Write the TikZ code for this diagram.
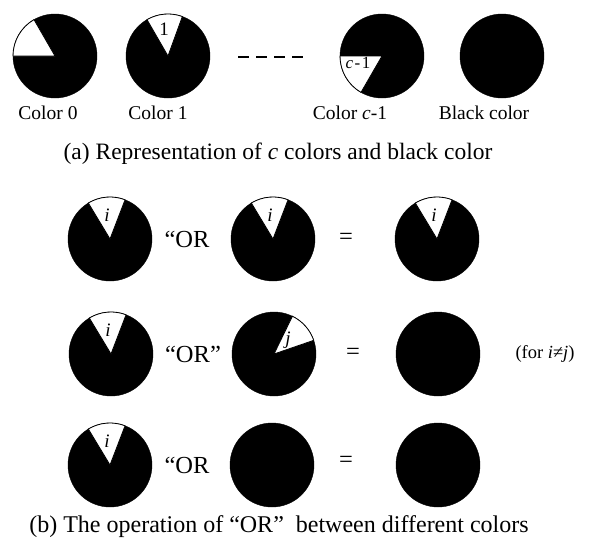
\documentclass[tikz,border=0pt]{standalone}
\usepackage{fontspec}
\setmainfont{Liberation Serif}
\usetikzlibrary{positioning}

% white sector cut out of a black disc: node, start angle, end angle
\newcommand{\slice}[3]{\filldraw[gap] (#1.center) -- ++(#2:42pt) arc[start angle=#2, end angle=#3, radius=42pt] -- cycle;}

\begin{document}
\begin{tikzpicture}[x=1pt, y=1pt,
    disc/.style={circle, fill=black, draw=black, minimum size=84pt, inner sep=0pt},
    gap/.style={fill=white, draw=black, line width=0.8pt},
    lbl/.style={font=\fontsize{19.5}{21}\selectfont},
    tag/.style={font=\fontsize{19}{20}\selectfont, inner sep=0pt},
    caption/.style={font=\fontsize{23.5}{25}\selectfont},
    op/.style={font=\fontsize{24.5}{26}\selectfont}]
    \useasboundingbox (0,0) rectangle (595,-541);

    % (a) the c colors
    \node[disc] (c0) at (55,-56) {};
    \node[disc] (c1) at (168,-56) {};
    \node[disc] (cl) at (382,-56) {};
    \node[disc] (cb) at (502,-56) {};
    \slice{c0}{120}{180}
    \slice{c1}{70}{120}
    \slice{cl}{180}{240}
    \node[tag] (m1) at (164,-29) {1};
    \node[tag, font=\fontsize{17}{18}\selectfont] (ml) at (358,-63) {\textit{c}\kern1.5pt-\kern1.5pt1};

    \coordinate (d1) at (238,-57);
    \coordinate (d2) at (307,-57);
    \draw[line width=2.6pt, dash pattern=on 11pt off 7pt] (d1) -- (d2);

    \node[lbl] (l0) at (48,-113) {Color 0};
    \node[lbl] (l1) at (158,-113) {Color 1};
    \node[lbl] (ll) at (350,-113) {Color \textit{c}-1};
    \node[lbl] (lb) at (484,-113) {Black color};
    \node[caption] (capa) at (278,-154) {(a) Representation of \textit{c} colors and black color};

    % (b) first row
    \node[disc] (p1) at (110,-239) {};
    \node[disc] (p2) at (273,-239) {};
    \node[disc] (p3) at (437,-239) {};
    \slice{p1}{69}{121}
    \slice{p2}{69}{121}
    \slice{p3}{69}{121}
    \node[tag] (pi1) at (107,-215) {\textit{i}};
    \node[tag] (pi2) at (270,-215) {\textit{i}};
    \node[tag] (pi3) at (434,-215) {\textit{i}};
    \node[op] (por) at (187,-239) {“OR};
    \node[op] (peq) at (346,-239) {=};

    % (b) second row
    \node[disc] (q1) at (111,-354) {};
    \node[disc] (q2) at (274,-354) {};
    \node[disc] (q3) at (438,-354) {};
    \slice{q1}{69}{121}
    \slice{q2}{19}{64}
    \node[tag] (qi1) at (108,-330) {\textit{i}};
    \node[tag] (qj2) at (288,-340) {\textit{j}};
    \node[op] (qor) at (193,-354) {“OR”};
    \node[op] (qeq) at (353,-354) {=};
    \node[lbl, font=\fontsize{18.5}{20}\selectfont] (qne) at (545,-354) {(for \textit{i}≠\textit{j})};

    % (b) third row
    \node[disc] (r1) at (110,-465) {};
    \node[disc] (r2) at (272,-465) {};
    \node[disc] (r3) at (438,-465) {};
    \slice{r1}{69}{121}
    \node[tag] (ri1) at (107,-441) {\textit{i}};
    \node[op] (ror) at (187,-465) {“OR};
    \node[op] (req) at (346,-462) {=};

    \node[caption, font=\fontsize{24}{26}\selectfont] (capb) at (279,-527) {(b) The operation of “OR”\ \ between different colors};
\end{tikzpicture}
\end{document}
